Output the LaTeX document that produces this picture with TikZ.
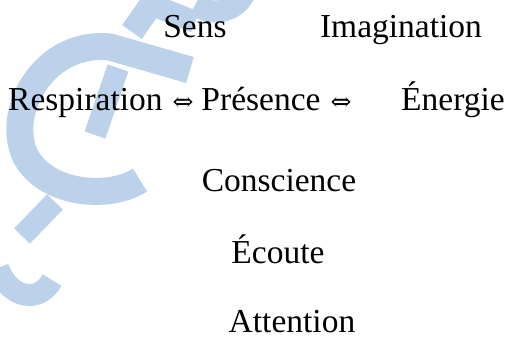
\documentclass[tikz,border=0pt]{standalone}
\usepackage{fontspec}
\setmainfont{Liberation Serif}
\newfontfamily\arrowfont{DejaVu Serif}
\definecolor{wmblue}{RGB}{188,210,235}
\begin{document}
\begin{tikzpicture}[x=1pt,y=-1pt,
  word/.style={inner sep=0pt,anchor=base,font=\fontsize{33.5}{36}\selectfont},
  dbl/.style={inner sep=0pt,anchor=center,font=\arrowfont\fontsize{25}{27}\selectfont},
  wm/.style={draw=wmblue,line width=27pt}]
\useasboundingbox (0,0) rectangle (508,339);
% watermark
\begin{scope}
\clip (0,0) rectangle (508,339);
\draw[wm] (190,70) -- (110,47) .. controls (45,40) and (5,110) .. (25,155) .. controls (45,195) and (110,200) .. (140,180);
\draw[wm,line width=22pt] (95,135) -- (118,68);
\draw[wm,line width=24pt] (132,32) -- (160,-8);
\draw[wm,line width=22pt] (160,8) -- (195,22);
\draw[wm,line width=22pt] (195,5) .. controls (215,18) and (238,10) .. (245,-8);
\draw[wm,line width=22pt] (22,236) -- (55,202);
\draw[wm,line width=22pt] (-2,268) .. controls (10,300) and (40,303) .. (52,280);
\end{scope}
% words
\node[word] (sens) at (195,38) {Sens};
\node[word] (imag) at (401,38) {Imagination};
\node[word,anchor=base west] (resp) at (8,111) {Respiration};
\node[dbl] (a1) at (183,104) {⇔};
\node[word] (pres) at (261,111) {Présence};
\node[dbl] (a2) at (341,104) {⇔};
\node[word] (ener) at (453,111) {Énergie};
\node[word] (consc) at (279,191) {Conscience};
\node[word] (ecoute) at (278,263) {Écoute};
\node[word] (att) at (292,332) {Attention};
\end{tikzpicture}
\end{document}
